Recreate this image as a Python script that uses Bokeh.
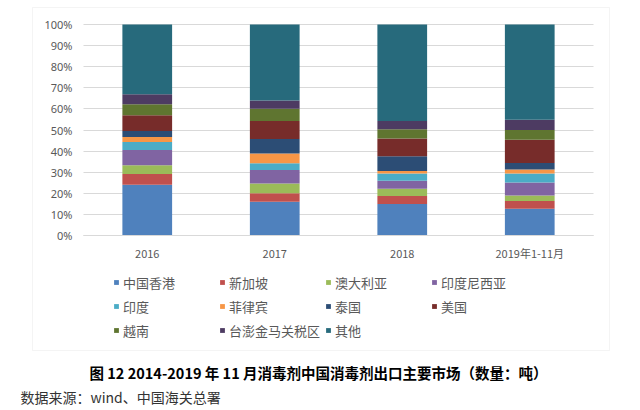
from bokeh.plotting import figure
from bokeh.models import (Range1d, Legend, LegendItem, Label, BoxAnnotation,
                          FixedTicker, CustomJSTickFormatter)
from bokeh.embed import file_html
from bokeh.resources import INLINE

categories = ["2016", "2017", "2018", "2019年1-11月"]
series_names = ["中国香港", "新加坡", "澳大利亚", "印度尼西亚", "印度", "菲律宾",
                "泰国", "美国", "越南", "台澎金马关税区", "其他"]
hk = [24.1, 16.0, 14.9, 12.7]
sg = [5.1, 4.0, 3.8, 3.6]
au = [4.1, 4.6, 3.5, 2.6]
idn = [7.2, 6.5, 3.7, 6.2]
ind = [3.8, 3.2, 3.5, 4.3]
ph = [2.4, 4.6, 1.2, 1.9]
th = [2.8, 6.8, 7.0, 3.1]
us = [7.5, 8.6, 8.4, 11.0]
vn = [5.2, 5.8, 4.3, 4.6]
tw = [4.8, 3.9, 4.0, 4.8]
other = [33.0, 36.0, 45.7, 45.2]
y_ticks = [0, 10, 20, 30, 40, 50, 60, 70, 80, 90, 100]

colors = ["#4F81BD", "#C0504D", "#9BBB59", "#8064A2", "#4BACC6", "#F79646",
          "#2C4D75", "#772C2A", "#5F7530", "#4D3B62", "#276A7C"]

caption = "图 12 2014-2019 年 11 月消毒剂中国消毒剂出口主要市场（数量：吨）"
source_text = "数据来源：wind、中国海关总署"

FONT = "Noto Sans CJK SC"

# ---- layout (pixels of the 640x410 canvas) ----
W, H = 640, 410
PL, PR, PT, PB = 83, 593, 24, 235          # plot area
n = len(categories)
ux = (PR - PL) / n                           # px per category
uy = (PB - PT) / 100.0                       # px per percent
def px2x(px):
    return (px - PL) / ux
def px2y(py):
    return (PB - py) / uy

keys = ["s%d" % i for i in range(len(series_names))]
data = {"x": [i + 0.5 for i in range(n)]}
for k, v in zip(keys, [hk, sg, au, idn, ind, ph, th, us, vn, tw, other]):
    data[k] = v

p = figure(width=W, height=H, x_range=Range1d(px2x(0), px2x(W)), y_range=Range1d(px2y(H), px2y(0)),
           min_border=0, min_border_left=0, min_border_right=0, min_border_top=0, min_border_bottom=0,
           output_backend="svg", toolbar_location=None, outline_line_color=None)
p.grid.visible = False

rs = p.vbar_stack(keys, x="x", width=0.39, source=data, color=colors, line_color=None)

# y axis: labels left of plot area; long inward ticks act as gridlines
ya = p.yaxis[0]
ya.fixed_location = 0
ya.ticker = FixedTicker(ticks=y_ticks)
ya.formatter = CustomJSTickFormatter(code="return tick + '%';")
ya.axis_line_color = None
ya.major_tick_in = int(PR - PL)
ya.major_tick_out = 0
ya.major_tick_line_color = "#d9d9d9"
ya.minor_tick_line_color = None
ya.major_label_standoff = 11
ya.major_label_text_font = "Noto Sans"
ya.major_label_text_font_size = "11px"
ya.major_label_text_color = "#595959"
ya.level = "underlay"

xa = p.xaxis[0]
xa.fixed_location = 0
xa.bounds = (0, n)
xa.ticker = FixedTicker(ticks=data["x"])
xa.major_label_overrides = {x: c for x, c in zip(data["x"], categories)}
xa.axis_line_color = "#d9d9d9"
xa.major_tick_line_color = None
xa.minor_tick_line_color = None
xa.major_label_standoff = 3
xa.major_label_text_font = FONT
xa.major_label_text_font_size = "11px"
xa.major_label_text_color = "#595959"

# outer border of the chart box
p.add_layout(BoxAnnotation(left=px2x(32), right=px2x(609), top=px2y(7), bottom=px2y(350),
                           fill_alpha=0, line_color="#d9d9d9", line_width=1, level="underlay"))

legend = Legend(items=[LegendItem(label=nm, renderers=[r]) for nm, r in zip(series_names, rs)],
                ncols=4, orientation="horizontal", location=(113, H - 340),
                glyph_width=6, glyph_height=6, label_standoff=4, label_width=92,
                label_height=20, spacing=4, padding=0, margin=0,
                border_line_color=None, background_fill_alpha=0,
                label_text_font=FONT, label_text_font_size="13px",
                label_text_color="#595959")
p.add_layout(legend)

p.add_layout(Label(x=px2x(318), y=px2y(372), text=caption,
                   text_align="center", text_baseline="middle", text_font=FONT,
                   text_font_size="14.5px", text_font_style="bold", text_color="#000000"))
p.add_layout(Label(x=px2x(20), y=px2y(396), text=source_text,
                   text_align="left", text_baseline="middle", text_font=FONT,
                   text_font_size="14px", text_color="#333333"))

open("out.html", "w").write(file_html(p, INLINE))
